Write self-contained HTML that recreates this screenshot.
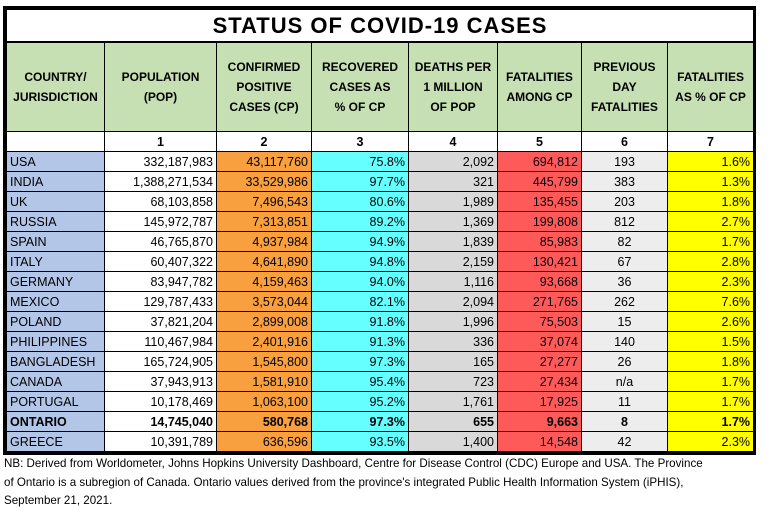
<!DOCTYPE html>
<html><head><meta charset="utf-8"><style>
body{margin:0;background:#fff;width:768px;height:510px;overflow:hidden;font-family:"Liberation Sans",sans-serif;}
.wrap{position:absolute;left:3px;top:6px;width:747px;border:3px solid #000;}
table{border-collapse:collapse;table-layout:fixed;width:747px;font-size:12.5px;}
td{border:1px solid #000;padding:0 3px;height:19px;line-height:18px;white-space:nowrap;overflow:hidden;}
.t td{height:31px;font-weight:bold;font-size:22px;text-align:center;letter-spacing:1px;border-bottom:2px solid #000;}
.h td{height:88px;background:#c6e0b4;font-weight:bold;text-align:center;white-space:normal;line-height:20px;font-size:12px;padding:0 5px;}
.n td{text-align:center;font-weight:bold;}
td.c{background:#b4c6e7;text-align:left;}
td.p{text-align:right;}
td.o{background:#f8a040;text-align:right;}
td.cy{background:#66ffff;text-align:right;}
td.g{background:#d9d9d9;text-align:right;}
td.r{background:#ff5a5a;text-align:right;}
td.l{background:#ededed;text-align:center;}
td.y{background:#ffff00;text-align:right;}
.b td{font-weight:bold;}
.note{position:absolute;left:4px;top:455px;width:764px;font-size:11.6px;line-height:18.5px;white-space:nowrap;}
</style></head><body>
<div class="wrap"><table>
<colgroup><col style="width:98px"><col style="width:112px"><col style="width:95px"><col style="width:97px"><col style="width:89px"><col style="width:84px"><col style="width:86px"><col style="width:86px"></colgroup>
<tr class="t"><td colspan="8">STATUS OF COVID-19 CASES</td></tr>
<tr class="h"><td>COUNTRY/ JURISDICTION</td><td>POPULATION (POP)</td><td>CONFIRMED POSITIVE CASES (CP)</td><td>RECOVERED CASES AS<br>% OF CP</td><td>DEATHS PER 1 MILLION OF POP</td><td>FATALITIES AMONG CP</td><td>PREVIOUS DAY FATALITIES</td><td>FATALITIES AS % OF CP</td></tr>
<tr class="n"><td></td><td>1</td><td>2</td><td>3</td><td>4</td><td>5</td><td>6</td><td>7</td></tr>
<tr><td class="c">USA</td><td class="p">332,187,983</td><td class="o">43,117,760</td><td class="cy">75.8%</td><td class="g">2,092</td><td class="r">694,812</td><td class="l">193</td><td class="y">1.6%</td></tr>
<tr><td class="c">INDIA</td><td class="p">1,388,271,534</td><td class="o">33,529,986</td><td class="cy">97.7%</td><td class="g">321</td><td class="r">445,799</td><td class="l">383</td><td class="y">1.3%</td></tr>
<tr><td class="c">UK</td><td class="p">68,103,858</td><td class="o">7,496,543</td><td class="cy">80.6%</td><td class="g">1,989</td><td class="r">135,455</td><td class="l">203</td><td class="y">1.8%</td></tr>
<tr><td class="c">RUSSIA</td><td class="p">145,972,787</td><td class="o">7,313,851</td><td class="cy">89.2%</td><td class="g">1,369</td><td class="r">199,808</td><td class="l">812</td><td class="y">2.7%</td></tr>
<tr><td class="c">SPAIN</td><td class="p">46,765,870</td><td class="o">4,937,984</td><td class="cy">94.9%</td><td class="g">1,839</td><td class="r">85,983</td><td class="l">82</td><td class="y">1.7%</td></tr>
<tr><td class="c">ITALY</td><td class="p">60,407,322</td><td class="o">4,641,890</td><td class="cy">94.8%</td><td class="g">2,159</td><td class="r">130,421</td><td class="l">67</td><td class="y">2.8%</td></tr>
<tr><td class="c">GERMANY</td><td class="p">83,947,782</td><td class="o">4,159,463</td><td class="cy">94.0%</td><td class="g">1,116</td><td class="r">93,668</td><td class="l">36</td><td class="y">2.3%</td></tr>
<tr><td class="c">MEXICO</td><td class="p">129,787,433</td><td class="o">3,573,044</td><td class="cy">82.1%</td><td class="g">2,094</td><td class="r">271,765</td><td class="l">262</td><td class="y">7.6%</td></tr>
<tr><td class="c">POLAND</td><td class="p">37,821,204</td><td class="o">2,899,008</td><td class="cy">91.8%</td><td class="g">1,996</td><td class="r">75,503</td><td class="l">15</td><td class="y">2.6%</td></tr>
<tr><td class="c">PHILIPPINES</td><td class="p">110,467,984</td><td class="o">2,401,916</td><td class="cy">91.3%</td><td class="g">336</td><td class="r">37,074</td><td class="l">140</td><td class="y">1.5%</td></tr>
<tr><td class="c">BANGLADESH</td><td class="p">165,724,905</td><td class="o">1,545,800</td><td class="cy">97.3%</td><td class="g">165</td><td class="r">27,277</td><td class="l">26</td><td class="y">1.8%</td></tr>
<tr><td class="c">CANADA</td><td class="p">37,943,913</td><td class="o">1,581,910</td><td class="cy">95.4%</td><td class="g">723</td><td class="r">27,434</td><td class="l">n/a</td><td class="y">1.7%</td></tr>
<tr><td class="c">PORTUGAL</td><td class="p">10,178,469</td><td class="o">1,063,100</td><td class="cy">95.2%</td><td class="g">1,761</td><td class="r">17,925</td><td class="l">11</td><td class="y">1.7%</td></tr>
<tr class="b"><td class="c">ONTARIO</td><td class="p">14,745,040</td><td class="o">580,768</td><td class="cy">97.3%</td><td class="g">655</td><td class="r">9,663</td><td class="l">8</td><td class="y">1.7%</td></tr>
<tr><td class="c">GREECE</td><td class="p">10,391,789</td><td class="o">636,596</td><td class="cy">93.5%</td><td class="g">1,400</td><td class="r">14,548</td><td class="l">42</td><td class="y">2.3%</td></tr>
</table></div>
<div class="note">NB: Derived from Worldometer, Johns Hopkins University Dashboard, Centre for Disease Control (CDC) Europe and USA. The Province<br>of Ontario is a subregion of Canada. Ontario values derived from the province's integrated Public Health Information System (iPHIS),<br>September 21, 2021.</div>
</body></html>
